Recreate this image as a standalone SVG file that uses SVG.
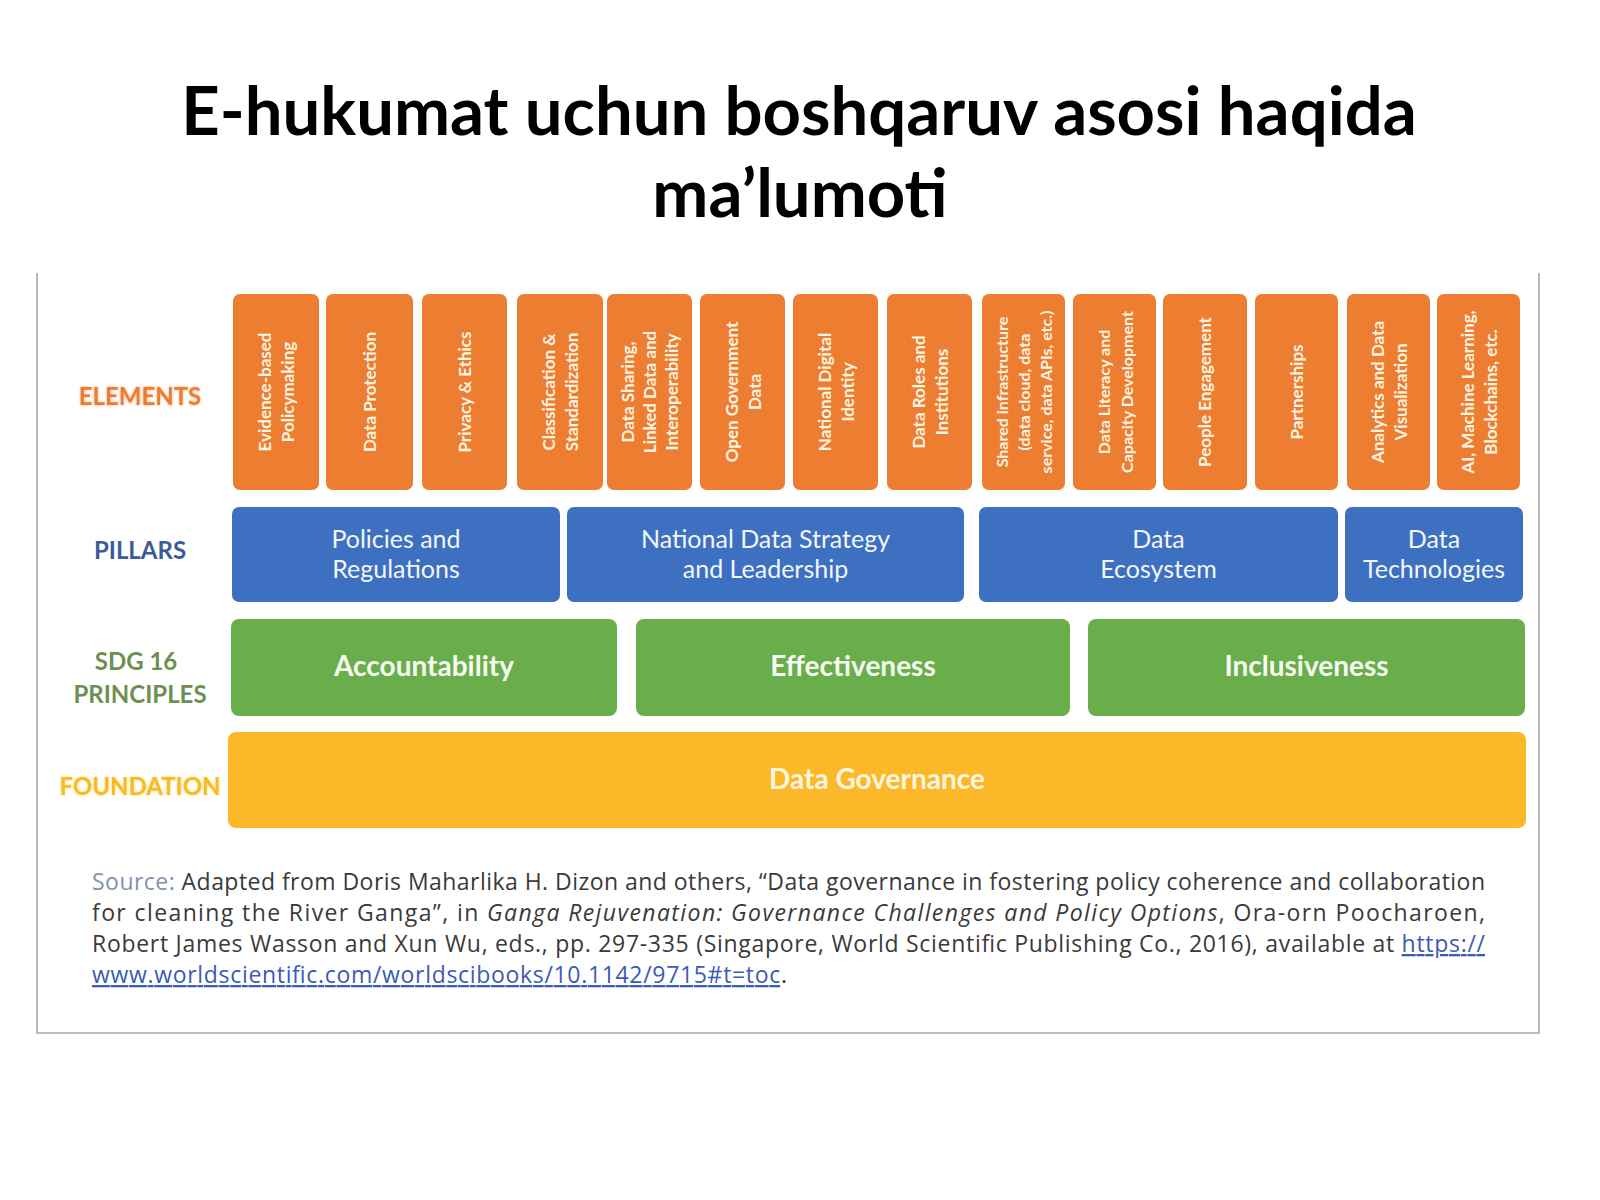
<svg xmlns="http://www.w3.org/2000/svg" width="1600" height="1200" viewBox="0 0 1600 1200">
<defs>
<style>
.title{font-family:"Lato","Liberation Sans",sans-serif;font-weight:700;font-size:67px;fill:#000;text-anchor:middle}
.el rect{fill:#ED7D31}
.el text{font-family:"Lato","Liberation Sans",sans-serif;font-weight:700;font-size:17px;fill:#FFF4E2;text-anchor:middle}
.pl rect{fill:#3D70C0}
.pl text{font-family:"Lato","Liberation Sans",sans-serif;font-size:25px;fill:#F2F6FC;text-anchor:middle}
.pr rect{fill:#6AAE4B}
.pr text{font-family:"Lato","Liberation Sans",sans-serif;font-weight:700;font-size:28px;fill:#F6FBF2;text-anchor:middle}
.fd rect{fill:#FBB829}
.fd text{font-family:"Lato","Liberation Sans",sans-serif;font-weight:700;font-size:28px;fill:#FFF6E0;text-anchor:middle}
.lbl{font-family:"Lato","Liberation Sans",sans-serif;font-weight:700;font-size:24px;text-anchor:middle}
.src{font-family:"Open Sans","Noto Sans","Liberation Sans",sans-serif;font-size:23px;fill:#3A3A3A}
.lnk{fill:#3B5BB5;text-decoration:underline}
</style>
<filter id="glow" x="-20%" y="-50%" width="140%" height="200%">
<feGaussianBlur stdDeviation="1.6" result="b"/>
<feComponentTransfer in="b" result="c"><feFuncA type="linear" slope="0.6"/></feComponentTransfer>
<feMerge><feMergeNode in="c"/><feMergeNode in="SourceGraphic"/></feMerge>
</filter>
</defs>
<rect width="1600" height="1200" fill="#FFFFFF"/>

<g id="title">
<text class="title" x="799" y="135">E-hukumat uchun boshqaruv asosi haqida</text>
<text class="title" x="800" y="217">ma’lumoti</text>
</g>

<g id="frame">
<path d="M37 273 V1033 H1539 V273" fill="none" stroke="#A3A9B1" stroke-width="1.6"/>
</g>

<g id="labels">
<text class="lbl" x="140" y="405" fill="#ED7D31" filter="url(#glow)">ELEMENTS</text>
<text class="lbl" x="140" y="559" fill="#3B5B98">PILLARS</text>
<text class="lbl" x="136" y="670" fill="#6E8F52">SDG 16</text>
<text class="lbl" x="140" y="703" fill="#6E8F52">PRINCIPLES</text>
<text class="lbl" x="140" y="795" fill="#F6BC22" filter="url(#glow)">FOUNDATION</text>
</g>

<g id="elements" class="el">
<g id="el-1"><rect x="233" y="294" width="86" height="196" rx="7"/>
<text transform="translate(276 392) rotate(-90)"><tspan x="0" y="-5">Evidence-based</tspan><tspan x="0" y="18">Policymaking</tspan></text></g>
<g id="el-2"><rect x="326" y="294" width="87" height="196" rx="7"/>
<text transform="translate(369.5 392) rotate(-90)"><tspan x="0" y="6">Data  Protection</tspan></text></g>
<g id="el-3"><rect x="422" y="294" width="85" height="196" rx="7"/>
<text transform="translate(464.5 392) rotate(-90)"><tspan x="0" y="6">Privacy &amp; Ethics</tspan></text></g>
<g id="el-4"><rect x="517" y="294" width="86" height="196" rx="7"/>
<text transform="translate(560 392) rotate(-90)"><tspan x="0" y="-5">Classification &amp;</tspan><tspan x="0" y="18">Standardization</tspan></text></g>
<g id="el-5"><rect x="607" y="294" width="85" height="196" rx="7"/>
<text transform="translate(649.5 392) rotate(-90)"><tspan x="0" y="-16">Data Sharing,</tspan><tspan x="0" y="6">Linked Data and</tspan><tspan x="0" y="28">Interoperability</tspan></text></g>
<g id="el-6"><rect x="700" y="294" width="85" height="196" rx="7"/>
<text transform="translate(742.5 392) rotate(-90)"><tspan x="0" y="-5">Open Government</tspan><tspan x="0" y="18">Data</tspan></text></g>
<g id="el-7"><rect x="793" y="294" width="85" height="196" rx="7"/>
<text transform="translate(835.5 392) rotate(-90)"><tspan x="0" y="-5">National Digital</tspan><tspan x="0" y="18">Identity</tspan></text></g>
<g id="el-8"><rect x="887" y="294" width="85" height="196" rx="7"/>
<text transform="translate(929.5 392) rotate(-90)"><tspan x="0" y="-5">Data Roles and</tspan><tspan x="0" y="18">Institutions</tspan></text></g>
<g id="el-9"><rect x="982" y="294" width="83" height="196" rx="7"/>
<text transform="translate(1023.5 392) rotate(-90)" style="font-size:16px"><tspan x="0" y="-16">Shared infrastructure</tspan><tspan x="0" y="6">(data cloud, data</tspan><tspan x="0" y="28">service, data APIs, etc.)</tspan></text></g>
<g id="el-10"><rect x="1073" y="294" width="83" height="196" rx="7"/>
<text transform="translate(1114.5 392) rotate(-90)" style="font-size:16px"><tspan x="0" y="-5">Data Literacy and</tspan><tspan x="0" y="18">Capacity Development</tspan></text></g>
<g id="el-11"><rect x="1163" y="294" width="84" height="196" rx="7"/>
<text transform="translate(1205 392) rotate(-90)"><tspan x="0" y="6">People Engagement</tspan></text></g>
<g id="el-12"><rect x="1255" y="294" width="83" height="196" rx="7"/>
<text transform="translate(1296.5 392) rotate(-90)"><tspan x="0" y="6">Partnerships</tspan></text></g>
<g id="el-13"><rect x="1347" y="294" width="83" height="196" rx="7"/>
<text transform="translate(1388.5 392) rotate(-90)"><tspan x="0" y="-5">Analytics and Data</tspan><tspan x="0" y="18">Visualization</tspan></text></g>
<g id="el-14"><rect x="1437" y="294" width="83" height="196" rx="7"/>
<text transform="translate(1478.5 392) rotate(-90)"><tspan x="0" y="-5">AI, Machine Learning,</tspan><tspan x="0" y="18">Blockchains, etc.</tspan></text></g>
</g>

<g id="pillars" class="pl">
<g id="pillar-1"><rect x="232" y="507" width="328" height="95" rx="7"/>
<text x="396" y="548">Policies and</text><text x="396" y="578">Regulations</text></g>
<g id="pillar-2"><rect x="567" y="507" width="397" height="95" rx="7"/>
<text x="765.5" y="548">National Data Strategy</text><text x="765.5" y="578">and Leadership</text></g>
<g id="pillar-3"><rect x="979" y="507" width="359" height="95" rx="7"/>
<text x="1158.5" y="548">Data</text><text x="1158.5" y="578">Ecosystem</text></g>
<g id="pillar-4"><rect x="1345" y="507" width="178" height="95" rx="7"/>
<text x="1434" y="548">Data</text><text x="1434" y="578">Technologies</text></g>
</g>

<g id="principles" class="pr">
<g id="pr-1"><rect x="231" y="619" width="386" height="97" rx="8"/>
<text x="424" y="676">Accountability</text></g>
<g id="pr-2"><rect x="636" y="619" width="434" height="97" rx="8"/>
<text x="853" y="676">Effectiveness</text></g>
<g id="pr-3"><rect x="1088" y="619" width="437" height="97" rx="8"/>
<text x="1306.5" y="676">Inclusiveness</text></g>
</g>

<g id="foundation" class="fd">
<rect x="228" y="732" width="1298" height="96" rx="8"/>
<text x="877" y="789">Data Governance</text>
</g>

<g id="connectors"></g>

<g id="source">
<text class="src" x="92" y="890" textLength="1393" lengthAdjust="spacing"><tspan fill="#8193AE">Source:</tspan> Adapted from Doris Maharlika H. Dizon and others, “Data governance in fostering policy coherence and collaboration</text>
<text class="src" x="92" y="921" textLength="1393" lengthAdjust="spacing">for cleaning the River Ganga”, in <tspan font-style="italic">Ganga Rejuvenation: Governance Challenges and Policy Options</tspan>, Ora-orn Poocharoen,</text>
<text class="src" x="92" y="952" textLength="1393" lengthAdjust="spacing">Robert James Wasson and Xun Wu, eds., pp. 297-335 (Singapore, World Scientific Publishing Co., 2016), available at <tspan class="lnk">https://</tspan></text>
<text class="src" x="92" y="983" textLength="695" lengthAdjust="spacing"><tspan class="lnk">www.worldscientific.com/worldscibooks/10.1142/9715#t=toc</tspan>.</text>
</g>
</svg>
